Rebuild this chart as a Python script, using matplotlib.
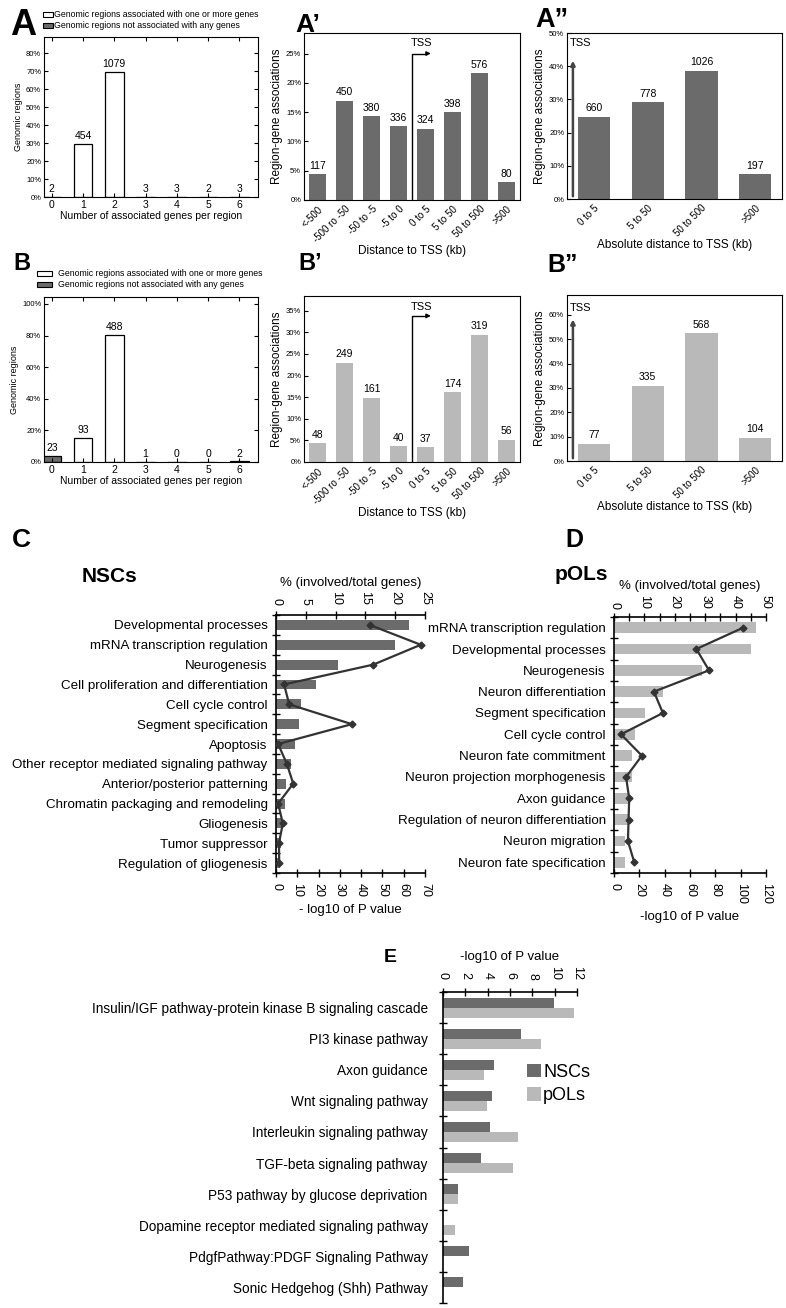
import matplotlib
matplotlib.use('Agg')
import matplotlib.pyplot as plt
from matplotlib.patches import Rectangle
from matplotlib.ticker import FuncFormatter, MultipleLocator
import numpy as np

plt.rcParams['font.family'] = ['Liberation Sans', 'DejaVu Sans']

# ---------------- data ----------------
n_genes_cats = ['0', '1', '2', '3', '4', '5', '6']
associated = [False, True, True, True, True, True, True]
A_counts = [2, 454, 1079, 3, 3, 2, 3]
A_pct = [0.13, 29.4, 69.8, 0.19, 0.19, 0.13, 0.19]
B_counts = [23, 93, 488, 1, 0, 0, 2]
B_pct = [3.8, 15.3, 80.4, 0.16, 0.0, 0.0, 0.33]

tss_cats = ['<-500', '-500 ro -50', '-50 to -5', '-5 to 0', '0 to 5', '5 to 50', '50 to 500', '>500']
A1_counts = [117, 450, 380, 336, 324, 398, 576, 80]
A1_pct = [4.4, 16.9, 14.3, 12.6, 12.2, 15.0, 21.6, 3.0]
B1_counts = [48, 249, 161, 40, 37, 174, 319, 56]
B1_pct = [4.4, 23.0, 14.9, 3.7, 3.4, 16.1, 29.4, 5.2]

abs_cats = ['0 to 5', '5 to 50', '50 to 500', '>500']
A2_counts = [660, 778, 1026, 197]
A2_pct = [24.8, 29.2, 38.6, 7.4]
B2_counts = [77, 335, 568, 104]
B2_pct = [7.1, 30.9, 52.4, 9.6]

C_terms = ['Developmental processes', 'mRNA transcription regulation', 'Neurogenesis',
           'Cell proliferation and differentiation', 'Cell cycle control', 'Segment specification',
           'Apoptosis', 'Other receptor mediated signaling pathway', 'Anterior/posterior patterning',
           'Chromatin packaging and remodeling', 'Gliogenesis', 'Tumor suppressor',
           'Regulation of gliogenesis']
C_pct = [22.3, 20.0, 10.4, 6.7, 4.2, 3.9, 3.2, 2.5, 1.7, 1.5, 1.0, 0.8, 0.7]
C_logp = [44, 68, 45.7, 3.8, 6.2, 35.6, 1.0, 5.1, 8.1, 1.0, 3.2, 1.4, 1.5]

D_terms = ['mRNA transcription regulation', 'Developmental processes', 'Neurogenesis',
           'Neuron differentiation', 'Segment specification', 'Cell cycle control',
           'Neuron fate commitment', 'Neuron projection morphogenesis', 'Axon guidance',
           'Regulation of neuron differentiation', 'Neuron migration', 'Neuron fate specification']
D_pct = [46.8, 45.0, 29.0, 16.1, 10.2, 6.9, 5.9, 5.9, 4.6, 4.6, 3.7, 3.7]
D_logp = [102, 65, 75, 31.5, 38.6, 5.5, 22, 9.5, 12, 11.5, 11, 16]

E_pathways = ['Insulin/IGF pathway-protein kinase B signaling cascade', 'PI3 kinase pathway',
              'Axon guidance', 'Wnt signaling pathway', 'Interleukin signaling pathway',
              'TGF-beta signaling pathway', 'P53 pathway by glucose deprivation',
              'Dopamine receptor mediated signaling pathway', 'PdgfPathway:PDGF Signaling Pathway',
              'Sonic Hedgehog (Shh) Pathway']
E_nsc = [9.9, 7.0, 4.6, 4.4, 4.2, 3.4, 1.3, 0.0, 2.3, 1.8]
E_pol = [11.7, 8.8, 3.7, 3.9, 6.7, 6.3, 1.3, 1.1, 0.0, 0.0]

# ---------------- style ----------------
W, H = 786, 1308
DARK = '#6b6b6b'
LIGHT = '#b9b9b9'
LINE = '#333333'
fig = plt.figure(figsize=(W / 100, H / 100), dpi=100)


def px_axes(l, t, r, b):
    return fig.add_axes([l / W, 1 - b / H, (r - l) / W, (b - t) / H])


def letter(x, y, s, size):
    fig.text(x / W, 1 - y / H, s, fontsize=size, fontweight='bold', va='baseline', ha='left')


pct_fmt = FuncFormatter(lambda v, p: f'{v:.0f}%')


def genes_panel(rect, pct, counts, ylim, ystep, ytop):
    ax = px_axes(*rect)
    x = np.arange(len(n_genes_cats))
    colors = ['white' if a else DARK for a in associated]
    ax.bar(x, pct, width=0.6, color=colors, edgecolor='black', linewidth=0.9)
    for xi, p, c in zip(x, pct, counts):
        ax.annotate(str(c), (xi, p), xytext=(0, 2), textcoords='offset points',
                    ha='center', va='bottom', fontsize=7.5)
    ax.set_xlim(-0.25, 6.6)
    ax.set_ylim(0, ylim)
    ax.set_yticks(np.arange(0, ytop + 0.1, ystep))
    ax.yaxis.set_major_formatter(pct_fmt)
    ax.set_xticks(x)
    ax.set_xticklabels(n_genes_cats)
    ax.tick_params(direction='in', top=True, right=True, length=3, width=0.8)
    ax.tick_params(axis='y', labelsize=5.5, pad=2)
    ax.tick_params(axis='x', labelsize=7.5, pad=2)
    ax.set_xlabel('Number of associated genes per region', fontsize=7.5, labelpad=1)
    ax.set_ylabel('Genomic regions', fontsize=6.5, labelpad=2)
    return ax


def legend_boxes(x, yc1, yc2, bw, tx):
    for yc, fc, lab in [(yc1, 'white', 'Genomic regions associated with one or more genes'),
                        (yc2, DARK, 'Genomic regions not associated with any genes')]:
        fig.add_artist(Rectangle((x / W, 1 - (yc + 2.5) / H), bw / W, 5 / H,
                                 transform=fig.transFigure, fc=fc, ec='black', lw=0.8))
        fig.text(tx / W, 1 - yc / H, lab, fontsize=6.3, va='center', ha='left')


def dist_panel(rect, cats, pct, counts, color, ylim, ystep, ytop, xlabel, kind, tss_top, tss_y):
    ax = px_axes(*rect)
    x = np.arange(len(cats))
    ax.bar(x, pct, width=0.6, color=color)
    for xi, p, c in zip(x, pct, counts):
        ax.annotate(str(c), (xi, p), xytext=(0, 2.5), textcoords='offset points',
                    ha='center', va='bottom', fontsize=7.5)
    ax.set_xlim(-0.5, len(cats) - 0.5)
    ax.set_ylim(0, ylim)
    ax.set_yticks(np.arange(0, ytop + 0.1, ystep))
    ax.yaxis.set_major_formatter(pct_fmt)
    ax.set_xticks(x)
    ax.set_xticklabels(cats, rotation=45, ha='right', va='top', rotation_mode='anchor', fontsize=7)
    ax.tick_params(axis='x', length=0, pad=3)
    ax.tick_params(axis='y', direction='in', length=3, width=0.8, labelsize=5.5, pad=2)
    ax.set_ylabel('Region-gene associations', fontsize=8.5, labelpad=2)
    ax.set_xlabel(xlabel, fontsize=8.5, labelpad=0)
    if kind == 'signed':
        ax.plot([3.5, 3.5, 4.0], [0, tss_top, tss_top], color='black', lw=1)
        ax.annotate('', xy=(4.3, tss_top), xytext=(3.95, tss_top),
                    arrowprops=dict(arrowstyle='-|>', color='black', lw=1, mutation_scale=6))
        ax.text(3.87, tss_y, 'TSS', ha='center', va='center', fontsize=8)
    else:
        ax.annotate('', xy=(-0.39, tss_top), xytext=(-0.39, 0),
                    arrowprops=dict(arrowstyle='-|>', color='#444444', lw=1.8, mutation_scale=6))
        ax.text(-0.45, tss_y, 'TSS', ha='left', va='center', fontsize=8)
    return ax


def go_panel(rect, terms, pct, logp, color, top_lim, top_major, top_minor, bot_lim, bot_major,
             bot_label, top_pad):
    ax = px_axes(*rect)
    ax2 = ax.twiny()
    n = len(terms)
    y = np.arange(n)
    # bars on the top (% genes) axis
    ax.barh(y, pct, height=0.5, color=color)
    ax.set_ylim(n - 0.5, -0.5)
    ax.set_xlim(*top_lim)
    ax.xaxis.tick_top()
    ax.xaxis.set_label_position('top')
    ax.xaxis.set_major_locator(MultipleLocator(top_major))
    ax.xaxis.set_minor_locator(MultipleLocator(top_minor))
    ax.set_xlabel('% (involved/total genes)', fontsize=9.5, labelpad=4)
    ax.tick_params(axis='x', which='both', direction='inout', length=6, width=1,
                   bottom=False, labelbottom=False, top=True, labeltop=True)
    ax.tick_params(axis='x', which='major', labelrotation=-90, labelsize=9, pad=top_pad)
    ax.set_yticks(y)
    ax.set_yticklabels(terms, fontsize=9.6)
    ax.set_yticks(np.arange(-0.5, n, 1.0), minor=True)
    ax.tick_params(axis='y', which='major', length=0, pad=6)
    ax.tick_params(axis='y', which='minor', direction='inout', length=6, width=1)
    for s in ['right', 'bottom']:
        ax.spines[s].set_visible(False)
    for s in ['left', 'top']:
        ax.spines[s].set_linewidth(1.2)
    # line on the bottom (-log10 P) axis
    ax2.plot(logp, y, color=LINE, lw=1.6, marker='D', ms=3.5)
    ax2.set_ylim(n - 0.5, -0.5)
    ax2.set_xlim(*bot_lim)
    ax2.xaxis.set_label_position('bottom')
    ax2.xaxis.set_major_locator(MultipleLocator(bot_major))
    ax2.set_xlabel(bot_label, fontsize=9.5, labelpad=5)
    ax2.tick_params(axis='x', direction='inout', length=6, width=1, labelrotation=-90,
                    labelsize=9, pad=4, bottom=True, labelbottom=True, top=False, labeltop=False)
    for s in ['right', 'top', 'left']:
        ax2.spines[s].set_visible(False)
    ax2.spines['bottom'].set_visible(True)
    ax2.spines['bottom'].set_linewidth(1.2)
    return ax


# ---------------- panels A / B ----------------
letter(10, 35, 'A', 26)
legend_boxes(43, 14.5, 25.5, 10, 54)
genes_panel((44, 37, 258, 197), A_pct, A_counts, 89, 10, 80)

letter(13, 270, 'B', 17)
legend_boxes(37, 273.5, 284.5, 15, 58)
genes_panel((44, 297, 258, 462), B_pct, B_counts, 104.4, 20, 100)

letter(295, 32, 'A\u2019', 19)
dist_panel((304, 33, 520, 200), tss_cats, A1_pct, A1_counts, DARK, 28.5, 5, 25,
           'Distance to TSS (kb)', 'signed', 25.0, 26.8)
letter(535, 27, 'A\u201d', 19.5)
dist_panel((567, 33, 782, 199), abs_cats, A2_pct, A2_counts, DARK, 50, 10, 50,
           'Absolute distance to TSS (kb)', 'abs', 42.5, 47.0)

letter(298, 270, 'B\u2019', 17)
dist_panel((304, 296, 520, 462), tss_cats, B1_pct, B1_counts, LIGHT, 38.4, 5, 35,
           'Distance to TSS (kb)', 'signed', 33.8, 35.9)
letter(547, 272, 'B\u201d', 18)
dist_panel((567, 295, 782, 461), abs_cats, B2_pct, B2_counts, LIGHT, 68.2, 10, 60,
           'Absolute distance to TSS (kb)', 'abs', 59.3, 63.0)

# ---------------- panels C / D ----------------
letter(12, 547, 'C', 19)
fig.text(82 / W, 1 - 582 / H, 'NSCs', fontsize=15, fontweight='bold', va='baseline')
go_panel((276, 615, 425, 873), C_terms, C_pct, C_logp, DARK, (0, 25), 5, 5, (0, 70), 10,
         '- log10 of P value', 4)

letter(565, 547, 'D', 18)
fig.text(555 / W, 1 - 580 / H, 'pOLs', fontsize=15, fontweight='bold', va='baseline')
go_panel((614, 617, 766, 873), D_terms, D_pct, D_logp, LIGHT, (0, 50), 10, 5, (0, 120), 20,
         '-log10 of P value', 3)

# ---------------- panel E ----------------
letter(384, 962, 'E', 14)
axE = px_axes(443, 992, 577, 1303)
yE = np.arange(len(E_pathways))
b1 = axE.barh(yE - 0.16, E_nsc, height=0.32, color=DARK, label='NSCs')
b2 = axE.barh(yE + 0.16, E_pol, height=0.32, color=LIGHT, label='pOLs')
axE.set_ylim(len(E_pathways) - 0.5, -0.5)
axE.set_xlim(0, 12)
axE.xaxis.tick_top()
axE.xaxis.set_label_position('top')
axE.xaxis.set_major_locator(MultipleLocator(2))
axE.set_xlabel('-log10 of P value', fontsize=9.5, labelpad=4)
axE.tick_params(axis='x', direction='inout', length=6, width=1, labelrotation=-90,
                labelsize=9, pad=6)
axE.set_yticks(yE)
axE.set_yticklabels(E_pathways, fontsize=9.8)
axE.set_yticks(np.arange(-0.5, len(E_pathways), 1.0), minor=True)
axE.tick_params(axis='y', which='major', length=0, pad=11)
axE.tick_params(axis='y', which='minor', direction='inout', length=6, width=1)
for s in ['right', 'bottom']:
    axE.spines[s].set_visible(False)
for s in ['left', 'top']:
    axE.spines[s].set_linewidth(1.2)
axE.legend(handles=[b1, b2], loc='upper left', bbox_to_anchor=(527 / W, 1 - 1064 / H),
           bbox_transform=fig.transFigure, frameon=False, fontsize=13, handlelength=0.75,
           handleheight=0.75, handletextpad=0.15, labelspacing=0.35, borderpad=0,
           borderaxespad=0)

fig.savefig('out.png', dpi=100)
